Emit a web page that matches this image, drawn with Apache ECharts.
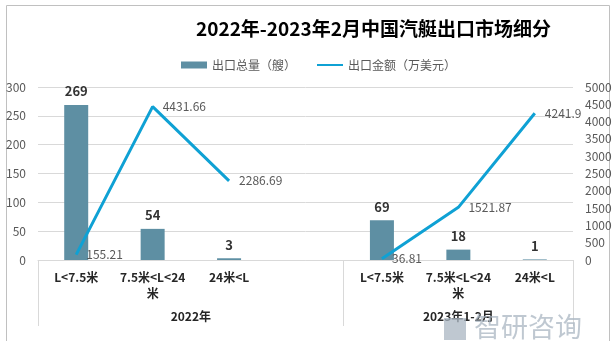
<!DOCTYPE html>
<html><head><meta charset="utf-8">
<script src="https://cdn.jsdelivr.net/npm/echarts@6/dist/echarts.min.js"></script>
<style>html,body{margin:0;padding:0;background:#fff}#c{width:616px;height:341px}</style>
</head><body><div id="c"></div>
<script>
const categories = ['L<7.5米','7.5米<L<24米','24米<L','','L<7.5米','7.5米<L<24米','24米<L'];
const groups = ['2022年','2023年1-2月'];
const volume = [269, 54, 3, null, 69, 18, 1];
const value = [155.21, 4431.66, 2286.69, null, 36.81, 1521.87, 4241.9];
const leftTicks = [0, 300, 50];
const rightTicks = [0, 5000, 500];

// group axis slots: 15 half-category positions; group labels at 4 and 11, dividers at 0, 8, 14
const groupSlots = [];
for (let i = 0; i < 15; i++) groupSlots.push(i === 4 ? groups[0] : i === 11 ? groups[1] : '');
const dividerIdx = [0, 8, 14];

const FONT = '"Noto Sans CJK SC", "Noto Sans", sans-serif';
const chart = echarts.init(document.getElementById('c'));
chart.setOption({
  animation: false,
  textStyle: { fontFamily: FONT },
  title: {
    text: '2022年-2023年2月中国汽艇出口市场细分',
    left: 191, top: 14,
    textStyle: { fontSize: 19, fontWeight: 'bold', color: '#000', fontFamily: FONT }
  },
  legend: {
    left: 176, top: 54, itemGap: 20, itemWidth: 26, itemHeight: 7,
    textStyle: { fontSize: 12, color: '#595959', fontFamily: FONT },
    data: [{ name: '出口总量（艘）', icon: 'rect' }, { name: '出口金额（万美元）', itemStyle: { opacity: 0 } }]
  },
  grid: { left: 38, right: 43, top: 87, bottom: 81, containLabel: false },
  graphic: [
    { type: 'rect', shape: { x: 6.5, y: 5.5, width: 603, height: 345 }, style: { fill: 'none', stroke: '#c0c0c0', lineWidth: 1 }, silent: true },
    { type: 'text', left: 474, top: 313, style: { text: '智研咨询', fill: 'rgba(170,182,194,0.75)', font: '27px ' + FONT }, z: 100 },
    { type: 'rect', shape: { x: 444, y: 318, width: 22, height: 22 }, style: { fill: 'rgba(170,182,194,0.75)' }, z: 100 }
  ],
  xAxis: [
    {
      type: 'category', data: categories, position: 'bottom',
      axisLine: { lineStyle: { color: '#d9d9d9' } },
      axisTick: { show: false },
      axisLabel: { margin: 9, fontSize: 12, fontWeight: 'bold', color: '#262626', interval: 0,
        width: 74, overflow: 'break', lineHeight: 16, fontFamily: FONT }
    },
    {
      type: 'category', data: groupSlots, position: 'bottom', boundaryGap: false,
      axisLine: { show: false },
      axisTick: { show: true, length: 66, lineStyle: { color: '#d9d9d9' },
        interval: function (i) { return dividerIdx.indexOf(i) >= 0; } },
      axisLabel: { margin: 50, fontSize: 12, fontWeight: 'bold', color: '#262626', fontFamily: FONT,
        interval: function (i) { return groupSlots[i] !== ''; } }
    }
  ],
  yAxis: [
    {
      type: 'value', min: leftTicks[0], max: leftTicks[1], interval: leftTicks[2],
      axisLine: { show: false }, axisTick: { show: false },
      axisLabel: { margin: 12, fontSize: 12, color: '#595959' },
      splitLine: { lineStyle: { color: '#d9d9d9' } }
    },
    {
      type: 'value', min: rightTicks[0], max: rightTicks[1], interval: rightTicks[2],
      axisLine: { show: false }, axisTick: { show: false },
      axisLabel: { margin: 12, fontSize: 12, color: '#595959', formatter: function (v) { return String(v); } },
      splitLine: { show: false }
    }
  ],
  series: [
    {
      name: '出口总量（艘）', type: 'bar', data: volume, xAxisIndex: 0, yAxisIndex: 0,
      barWidth: 24, itemStyle: { color: '#5e8fa3' },
      label: { show: true, position: 'top', distance: 7, fontSize: 13, fontWeight: 'bold', color: '#333', fontFamily: FONT }
    },
    {
      name: '出口金额（万美元）', type: 'line', data: value, xAxisIndex: 0, yAxisIndex: 1,
      symbol: 'circle', symbolSize: 0.1, showSymbol: true, connectNulls: false,
      lineStyle: { color: '#0fa1d4', width: 3 }, itemStyle: { color: '#0fa1d4' },
      label: { show: true, position: 'right', distance: 10, fontSize: 12, color: '#595959', fontFamily: FONT }
    }
  ]
});
</script></body></html>
